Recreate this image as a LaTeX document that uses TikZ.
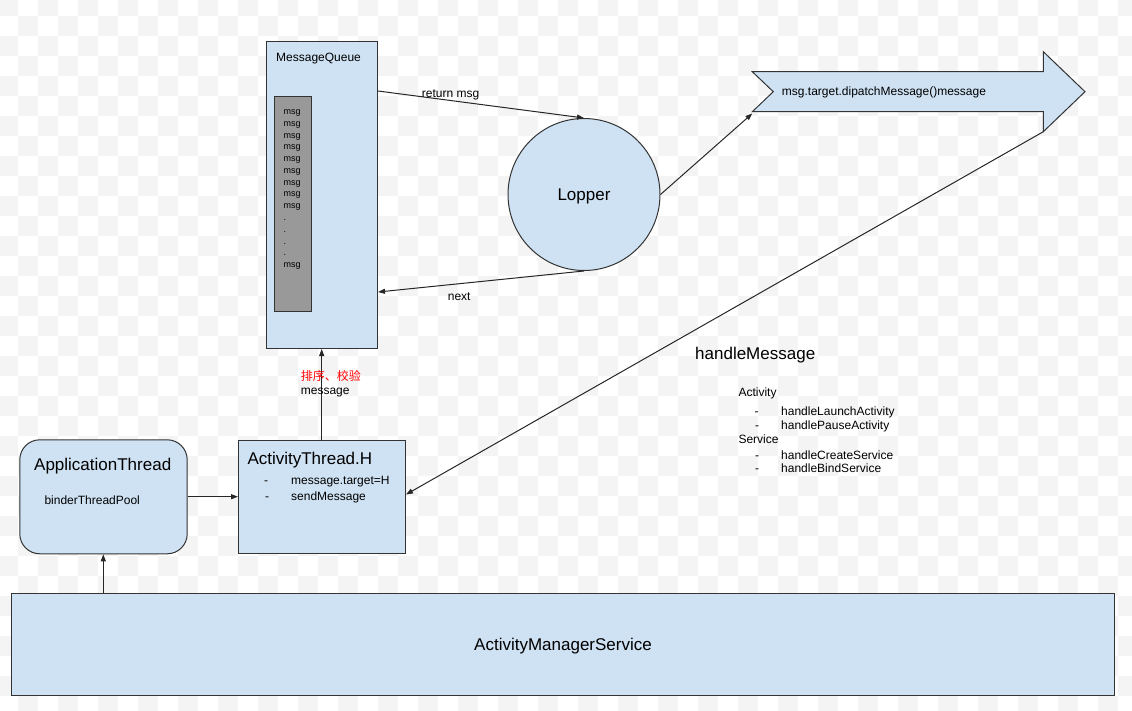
\documentclass[tikz,border=0pt]{standalone}
\usepackage{fontspec}
\setmainfont{Liberation Sans}
\newfontfamily\cjkfont{Noto Sans CJK SC}
\usetikzlibrary{arrows.meta}
\definecolor{boxblue}{HTML}{CFE2F3}
\definecolor{boxline}{HTML}{333333}
\definecolor{qgray}{HTML}{999999}
\definecolor{checker}{HTML}{F4F4F4}
\definecolor{txtred}{HTML}{FF0000}
\begin{document}
\begin{tikzpicture}[x=1pt,y=-1pt,
  box/.style={draw=boxline,fill=boxblue,line width=1pt,inner sep=0pt,anchor=north west},
  arr/.style={draw=black!85,line width=1pt,-{Triangle[length=7pt,width=5pt]}},
  txt/.style={inner sep=0pt,anchor=base west,font=\fontsize{12}{14}\selectfont},
  bigtxt/.style={inner sep=0pt,anchor=base west,font=\fontsize{17}{20}\selectfont},
  msgtxt/.style={inner sep=0pt,anchor=base west,font=\fontsize{9}{11}\selectfont}
]
\useasboundingbox (0,0) rectangle (1132,711);
% checkerboard background
\begin{scope}
\clip (0,0) rectangle (1132,711);
\foreach \i in {0,...,57}{\foreach \j in {0,...,36}{\ifodd\numexpr\i+\j\relax\else\fill[checker] ({-2+20*\i},{-4+20*\j}) rectangle ++(20,20);\fi}}
\end{scope}

% MessageQueue
\node[box,minimum width=111pt,minimum height=307pt] (mq) at (266,41) {};
\node[txt] (mqt) at (276,62) {MessageQueue};
\node[draw=boxline,fill=qgray,line width=1pt,inner sep=0pt,anchor=north west,minimum width=36.5pt,minimum height=215pt] (mql) at (274,96) {};
\foreach \t [count=\k from 0] in {msg,msg,msg,msg,msg,msg,msg,msg,msg,.,.,.,.,msg}
  \node[msgtxt] (m\k) at (283.3,{114.5+11.78*\k}) {\t};

% Lopper
\node[draw=boxline,fill=boxblue,circle,minimum size=152pt,inner sep=0pt,line width=1pt,text height=12.5pt,text depth=0pt,font=\fontsize{17}{20}\selectfont] (lp) at (584,194.5) {Lopper};

% big arrow
\draw[draw=boxline,fill=boxblue,line width=1pt,line join=miter]
  (752.3,71.7) -- (1043.3,71.7) -- (1043.3,51.7) -- (1085,91.7) -- (1043.3,131.7) -- (1043.3,111.7) -- (752.3,111.7) -- (773.3,91.7) -- cycle;
\coordinate (bnb) at (752.3,113.5);
\coordinate (bhb) at (1043.3,131.7);
\node[txt] (bat) at (781.7,95.5) {msg.target.dipatchMessage()message};

% ActivityThread.H
\node[box,minimum width=167pt,minimum height=113pt] (ath) at (238,440) {};
\node[bigtxt] (atht) at (247.3,464.5) {ActivityThread.H};
\node[txt] (athd1) at (264,484) {-};
\node[txt] (ath1) at (291,484) {message.target=H};
\node[txt] (athd2) at (265,500) {-};
\node[txt] (ath2) at (291,500) {sendMessage};

% ApplicationThread
\node[box,rounded corners=20pt,minimum width=167.4pt,minimum height=114pt] (apt) at (19.3,439.3) {};
\node[bigtxt] (aptt) at (34,470) {ApplicationThread};
\node[txt] (apt1) at (44.3,504.3) {binderThreadPool};

% ActivityManagerService
\node[box,minimum width=1103pt,minimum height=102pt] (ams) at (11,593) {};
\node[inner sep=0pt,anchor=base,font=\fontsize{17}{20}\selectfont] (amst) at (563,650) {ActivityManagerService};

% connectors
\draw[arr] (ams.north -| 103.3,0) -- (apt.south -| 103.3,0);
\draw[arr] (apt.east |- 0,496.7) -- (ath.west |- 0,496.7);
\draw[arr] (ath.north -| 321.7,0) -- (mq.south -| 321.7,0);
\node[txt,text=txtred] (sortl) at (300.7,380.5) {\cjkfont 排序、校验};
\node[txt] (msgl) at (300.7,394.3) {message};
\draw[arr] (mq.east |- 0,91) -- (lp.north);
\node[txt] (retl) at (421.7,97.5) {return msg};
\draw[arr] (lp.south) -- (mq.east |- 0,292);
\node[txt] (nextl) at (447.7,300.7) {next};
\draw[arr] (lp.east) -- (bnb);
\draw[arr] (bhb) -- (ath.east |- 0,494.5);

% handleMessage list
\node[bigtxt] (hm) at (695,359.3) {handleMessage};
\node[txt] (la) at (738.3,396.7) {Activity};
\node[txt] (d1) at (754.5,415) {-};
\node[txt] (l1) at (781,415) {handleLaunchActivity};
\node[txt] (d2) at (755,429.3) {-};
\node[txt] (l2) at (781,429.3) {handlePauseActivity};
\node[txt] (ls) at (738.3,443.3) {Service};
\node[txt] (d3) at (755,459) {-};
\node[txt] (l3) at (781,459) {handleCreateService};
\node[txt] (d4) at (755,472.7) {-};
\node[txt] (l4) at (781,472.7) {handleBindService};
\end{tikzpicture}
\end{document}
